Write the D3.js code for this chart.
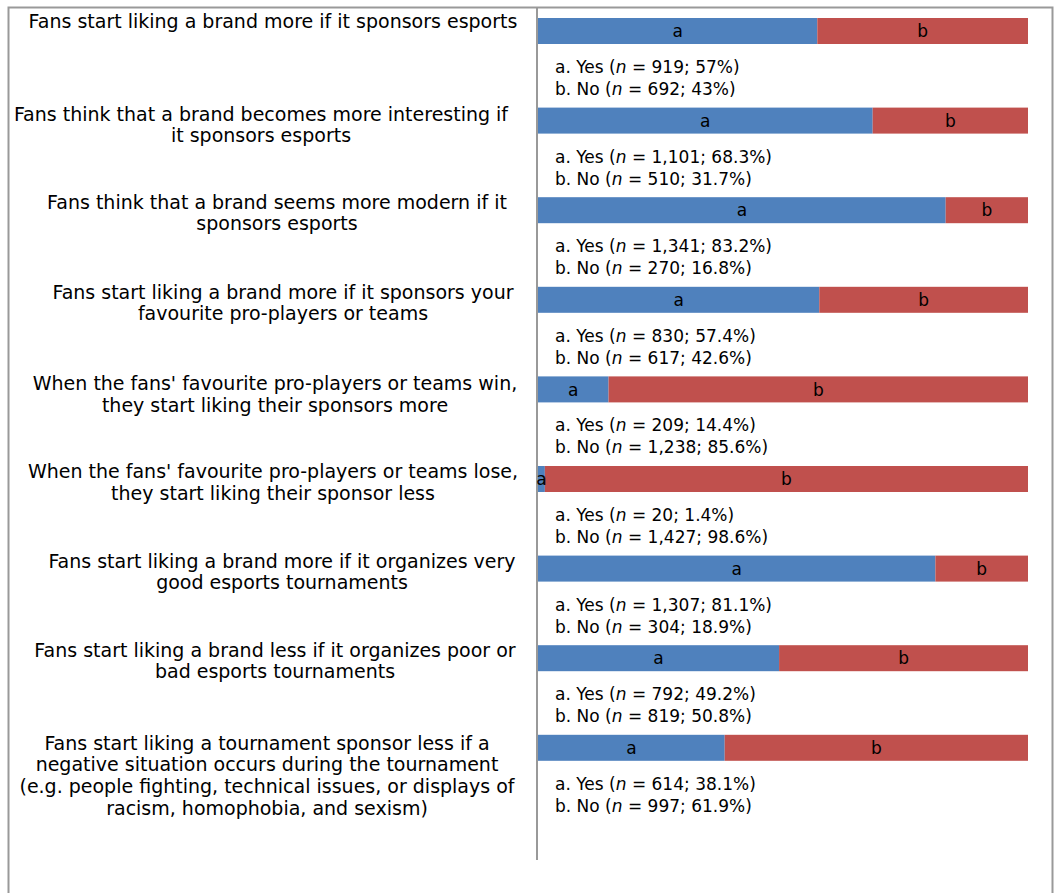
<!DOCTYPE html>
<html>
<head>
<meta charset="utf-8">
<script src="https://cdn.jsdelivr.net/npm/d3@7/dist/d3.min.js"></script>
<style>
  html, body { margin: 0; padding: 0; background: #fff; }
  svg { display: block; }
  text { font-family: "DejaVu Sans", sans-serif; fill: #000; }
</style>
</head>
<body>
<svg id="chart" width="1054" height="893"></svg>
<script>
// Survey statements (wrapped as printed)
const statements = [
  ["Fans start liking a brand more if it sponsors esports"],
  ["Fans think that a brand becomes more interesting if", "it sponsors esports"],
  ["Fans think that a brand seems more modern if it", "sponsors esports"],
  ["Fans start liking a brand more if it sponsors your", "favourite pro-players or teams"],
  ["When the fans' favourite pro-players or teams win,", "they start liking their sponsors more"],
  ["When the fans' favourite pro-players or teams lose,", "they start liking their sponsor less"],
  ["Fans start liking a brand more if it organizes very", "good esports tournaments"],
  ["Fans start liking a brand less if it organizes poor or", "bad esports tournaments"],
  ["Fans start liking a tournament sponsor less if a", "negative situation occurs during the tournament",
   "(e.g. people fighting, technical issues, or displays of", "racism, homophobia, and sexism)"]
];

// Answer counts and shares
const yesCount = ["919", "1,101", "1,341", "830", "209", "20", "1,307", "792", "614"];
const yesPct   = [57, 68.3, 83.2, 57.4, 14.4, 1.4, 81.1, 49.2, 38.1];
const noCount  = ["692", "510", "270", "617", "1,238", "1,427", "304", "819", "997"];
const noPct    = [43, 31.7, 16.8, 42.6, 85.6, 98.6, 18.9, 50.8, 61.9];

// Statement block placement: horizontal centre and first-baseline offset from the bar top
const labelCenters = [273, 261, 277, 283, 275, 273, 282, 275, 267];
const labelOffsets = [10, 13, 11.5, 12, 13.5, 12, 12, 11.5, 15];
const lineStep = 21.6;

const colors = { yes: "#4F81BD", no: "#C0504D" };
const labelSize = 19;
const legendSize = 17;

const svg = d3.select("#chart");

const x = d3.scaleLinear().domain([0, 100]).range([538, 1028]);
const y = d3.scaleBand()
  .domain(d3.range(statements.length))
  .range([18, 18 + 89.6 * statements.length])
  .paddingInner(0).paddingOuter(0);
const barH = 26;

// Frame
svg.append("path")
  .attr("d", "M8.5,900 V7.5 H1052.5 V900")
  .attr("fill", "none").attr("stroke", "#999").attr("stroke-width", 2);

// Category axis line
svg.append("line")
  .attr("x1", 537).attr("x2", 537).attr("y1", 7).attr("y2", 860)
  .attr("stroke", "#999").attr("stroke-width", 2);

const rows = svg.selectAll("g.row")
  .data(d3.range(statements.length))
  .join("g").attr("class", "row");

// Stacked bars
rows.append("rect")
  .attr("x", x(0))
  .attr("y", i => y(i))
  .attr("width", i => x(yesPct[i]) - x(0))
  .attr("height", barH)
  .attr("fill", colors.yes);

rows.append("rect")
  .attr("x", i => x(yesPct[i]))
  .attr("y", i => y(i))
  .attr("width", i => x(yesPct[i] + noPct[i]) - x(yesPct[i]))
  .attr("height", barH)
  .attr("fill", colors.no);

// Segment letters
rows.append("text")
  .attr("x", i => (x(0) + x(yesPct[i])) / 2)
  .attr("y", i => y(i) + barH / 2)
  .attr("dy", "0.36em")
  .attr("text-anchor", "middle")
  .style("font-size", legendSize + "px")
  .text("a");

rows.append("text")
  .attr("x", i => (x(yesPct[i]) + x(yesPct[i] + noPct[i])) / 2)
  .attr("y", i => y(i) + barH / 2)
  .attr("dy", "0.36em")
  .attr("text-anchor", "middle")
  .style("font-size", legendSize + "px")
  .text("b");

// Answer legend under each bar
function legendLine(sel, prefix, n, pct, dyLine) {
  const t = sel.append("text")
    .attr("x", 555)
    .attr("y", i => y(i) + barH + dyLine)
    .style("font-size", legendSize + "px");
  t.append("tspan").text(prefix + " (");
  t.append("tspan").style("font-style", "italic").text("n");
  t.append("tspan").text(i => " = " + n[i] + "; " + pct[i] + "%)");
}
legendLine(rows, "a. Yes", yesCount, yesPct, 29);
legendLine(rows, "b. No", noCount, noPct, 51);

// Statement labels
rows.each(function(i) {
  const g = d3.select(this);
  const t = g.append("text")
    .attr("text-anchor", "middle")
    .style("font-size", labelSize + "px");
  statements[i].forEach((line, k) => {
    t.append("tspan")
      .attr("x", labelCenters[i])
      .attr("y", y(i) + labelOffsets[i] + k * lineStep)
      .text(line);
  });
});
</script>
</body>
</html>
